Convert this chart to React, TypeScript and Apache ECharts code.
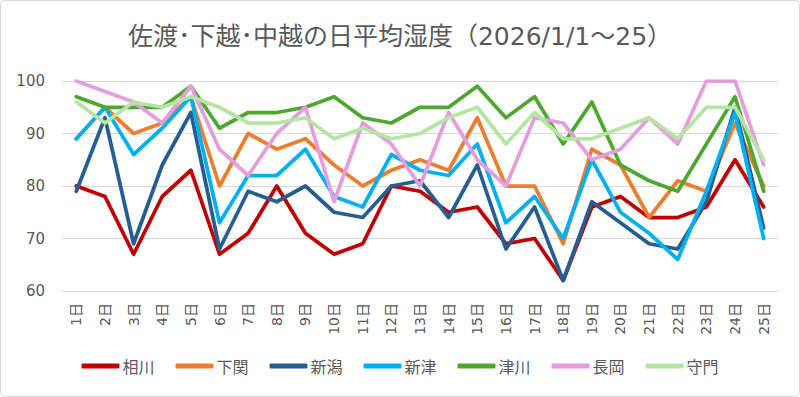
import React, { useEffect, useRef } from "react";
import * as echarts from "echarts";

const days = ["1日","2日","3日","4日","5日","6日","7日","8日","9日","10日","11日","12日","13日","14日","15日","16日","17日","18日","19日","20日","21日","22日","23日","24日","25日"];

const aikawa = [80, 78, 67, 78, 83, 67, 71, 80, 71, 67, 69, 80, 79, 75, 76, 69, 70, 62, 76, 78, 74, 74, 76, 85, 76];
const shimoseki = [89, 95, 90, 92, 97, 80, 90, 87, 89, 84, 80, 83, 85, 83, 93, 80, 80, 69, 87, 84, 74, 81, 79, 92, 80];
const niigata = [79, 93, 69, 84, 94, 68, 79, 77, 80, 75, 74, 80, 81, 74, 84, 68, 76, 62, 77, 73, 69, 68, 77, 95, 72];
const niitsu = [89, 95, 86, 91, 97, 73, 82, 82, 87, 78, 76, 86, 83, 82, 88, 73, 78, 70, 85, 75, 71, 66, 79, 94, 70];
const tsugawa = [97, 95, 95, 95, 99, 91, 94, 94, 95, 97, 93, 92, 95, 95, 99, 93, 97, 88, 96, 84, 81, 79, 88, 97, 79];
const nagaoka = [100, 98, 96, 92, 99, 87, 82, 90, 95, 77, 92, 88, 80, 94, 85, 80, 93, 92, 85, 87, 93, 88, 100, 100, 84];
const sumon = [96, 92, 96, 95, 97, 95, 92, 92, 93, 89, 91, 89, 90, 93, 95, 88, 94, 89, 89, 91, 93, 89, 95, 95, 85];

const yTicks = [60, 70, 80, 90, 100];

const seriesDefs = [
  { name: "相川", data: aikawa, color: "#C00000" },
  { name: "下関", data: shimoseki, color: "#ED7D31" },
  { name: "新潟", data: niigata, color: "#265E93" },
  { name: "新津", data: niitsu, color: "#00B0F0" },
  { name: "津川", data: tsugawa, color: "#4EA72E" },
  { name: "長岡", data: nagaoka, color: "#E59EDD" },
  { name: "守門", data: sumon, color: "#B4E5A2" },
];

const FONT = "'DejaVu Sans', 'Noto Sans CJK JP', sans-serif";

export default function App() {
  const ref = useRef<HTMLDivElement>(null);
  useEffect(() => {
    if (!ref.current) return;
    const chart = echarts.init(ref.current, null, { renderer: "svg" });
    chart.setOption({
      animation: false,
      backgroundColor: "#FFFFFF",
      textStyle: { fontFamily: FONT },
      title: {
        text: "佐渡･下越･中越の日平均湿度（2026/1/1～25）",
        left: "center",
        top: 19,
        textStyle: { fontFamily: FONT, fontSize: 25, fontWeight: "normal", color: "#595959" },
      },
      graphic: [
        {
          type: "rect",
          shape: { x: 0.5, y: 0.5, width: 799, height: 396, r: 4 },
          style: { fill: "none", stroke: "#D9D9D9", lineWidth: 1 },
          silent: true,
        },
      ],
      legend: {
        bottom: 18,
        left: "center",
        itemWidth: 38,
        itemHeight: 5,
        itemGap: 21,
        icon: "roundRect",
        textStyle: { fontFamily: "'Noto Sans CJK JP', sans-serif", fontSize: 16, color: "#595959", padding: [0, 0, 0, -2] },
        data: seriesDefs.map((s) => s.name),
      },
      grid: { left: 62, right: 22, top: 81, height: 210 },
      xAxis: {
        type: "category",
        data: days,
        boundaryGap: true,
        axisLine: { show: true, lineStyle: { color: "#D9D9D9" } },
        axisTick: { show: false },
        axisLabel: { rotate: 90, color: "#595959", fontSize: 14, fontFamily: FONT, interval: 0, margin: 12 },
      },
      yAxis: {
        type: "value",
        min: yTicks[0],
        max: yTicks[yTicks.length - 1],
        interval: 10,
        axisLine: { show: false },
        axisTick: { show: false },
        axisLabel: { color: "#595959", fontSize: 15, fontFamily: FONT, margin: 17 },
        splitLine: { lineStyle: { color: "#D9D9D9", width: 1 } },
      },
      series: seriesDefs.map((s) => ({
        name: s.name,
        type: "line",
        data: s.data,
        symbol: "none",
        color: s.color,
        lineStyle: { width: 3.75, color: s.color, cap: "round", join: "round" },
      })),
    });
    return () => chart.dispose();
  }, []);
  return (
    <div
      ref={ref}
      style={{ position: "fixed", left: 0, top: 0, width: 800, height: 397 }}
    />
  );
}
